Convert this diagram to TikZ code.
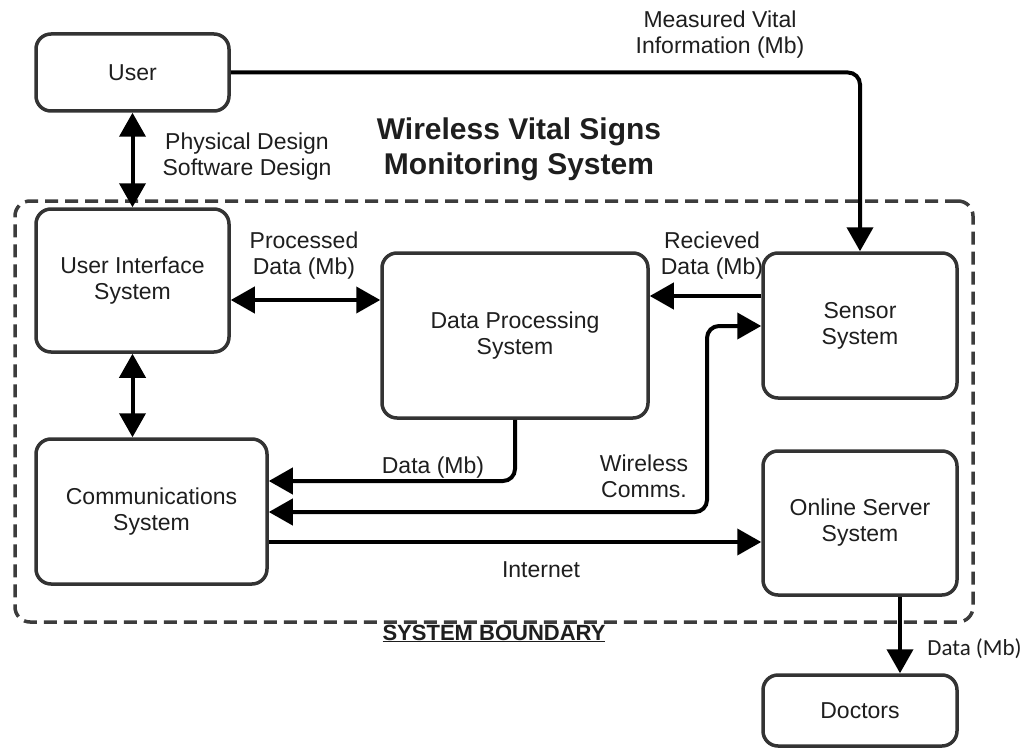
\documentclass[tikz,border=0pt]{standalone}
\usepackage{fontspec}
\setmainfont{Liberation Sans}
\newfontfamily\calibrifont{Carlito}
\usetikzlibrary{arrows.meta}
\definecolor{boxgray}{HTML}{333333}
\definecolor{textgray}{HTML}{1E1E1E}
\definecolor{dashgray}{HTML}{3C3C3C}

\begin{document}
\begin{tikzpicture}[x=1pt,y=-1pt,
  every node/.style={text=textgray},
  sysbox/.style={draw=boxgray, line width=3.5pt, rounded corners=15pt, fill=white,
    align=center, inner sep=0pt, font=\fontsize{23}{26}\selectfont},
  boundarybox/.style={draw=dashgray, line width=3.5pt, rounded corners=15pt,
    dash pattern=on 13pt off 7pt, inner sep=0pt},
  flow/.style={line width=4pt, draw=black, rounded corners=12pt},
  >={Triangle[length=24pt,width=26pt]},
  lbl/.style={align=center, inner sep=0pt, font=\fontsize{23}{26}\selectfont},
  titlelbl/.style={align=center, inner sep=0pt, font=\bfseries\fontsize{30}{35}\selectfont},
]
\useasboundingbox (0,0) rectangle (1025,749);

% system boundary
\node[boundarybox, minimum width=958pt, minimum height=421pt] (boundary) at (494,411.5) {};

% subsystems and external parties
\node[sysbox, minimum width=193pt, minimum height=77pt]  (user)    at (132.5,72.5)  {User};
\node[sysbox, minimum width=193pt, minimum height=143pt] (ui)      at (132.5,280.5) {User Interface\\System};
\node[sysbox, minimum width=266pt, minimum height=165pt] (dps)     at (515,335.5)   {Data Processing\\System};
\node[sysbox, minimum width=194pt, minimum height=145pt] (sensor)  at (860,325.5)   {Sensor\\System};
\node[sysbox, minimum width=231pt, minimum height=145pt] (comms)   at (151.5,511.5) {Communications\\System};
\node[sysbox, minimum width=194pt, minimum height=144pt] (server)  at (860,523)     {Online Server\\System};
\node[sysbox, minimum width=194pt, minimum height=71pt]  (doctors) at (860,710.5)   {Doctors};

% routing rows and columns
\coordinate (yPD) at (0,300);
\coordinate (yRD) at (0,296);
\coordinate (wTop) at (707,326);
\coordinate (wBot) at (707,512);
\coordinate (yData) at (0,481);
\coordinate (yNet) at (0,542);
\coordinate (xOut) at (900,0);

% connectors
\draw[flow,<->] (user.south) -- (ui.north);
\draw[flow,->] (user.east) -| (sensor.north);
\draw[flow,<->] (ui.east |- yPD) -- (dps.west |- yPD);
\draw[flow,<->] (ui.south) -- (ui.south |- comms.north);
\draw[flow,->] (sensor.west |- yRD) -- (dps.east |- yRD);
\draw[flow,<->] (comms.east |- wBot) -- (wBot) -- (wTop) -- (sensor.west |- wTop);
\draw[flow,->] (dps.south) |- (comms.east |- yData);
\draw[flow,->] (comms.east |- yNet) -- (server.west |- yNet);
\draw[flow,->] (server.south -| xOut) -- (doctors.north -| xOut);

% labels
\node[lbl] (lMeasured) at (720,34.5) {Measured Vital\\Information (Mb)};
\node[lbl] (lDesign) at (247,157) {Physical Design\\Software Design};
\node[titlelbl] (lTitle) at (519,149.7) {Wireless Vital Signs\\Monitoring System};
\node[lbl] (lProcessed) at (304,255.5) {Processed\\Data (Mb)};
\node[lbl] (lReceived) at (712,255.5) {Recieved\\Data (Mb)};
\node[lbl, anchor=base] (lData) at (433,473) {Data (Mb)};
\node[lbl] (lWireless) at (644,476.6) {Wireless\\Comms.};
\node[lbl, anchor=base] (lNet) at (541,577) {Internet};
\node[inner sep=0pt, anchor=base, font=\bfseries\fontsize{22}{26}\selectfont] (lBoundary) at (494,640) {\underline{SYSTEM BOUNDARY}};
\node[inner sep=0pt, anchor=base, font=\calibrifont\fontsize{23}{26}\selectfont] (lOut) at (974.5,655) {Data (Mb)};
\end{tikzpicture}
\end{document}
